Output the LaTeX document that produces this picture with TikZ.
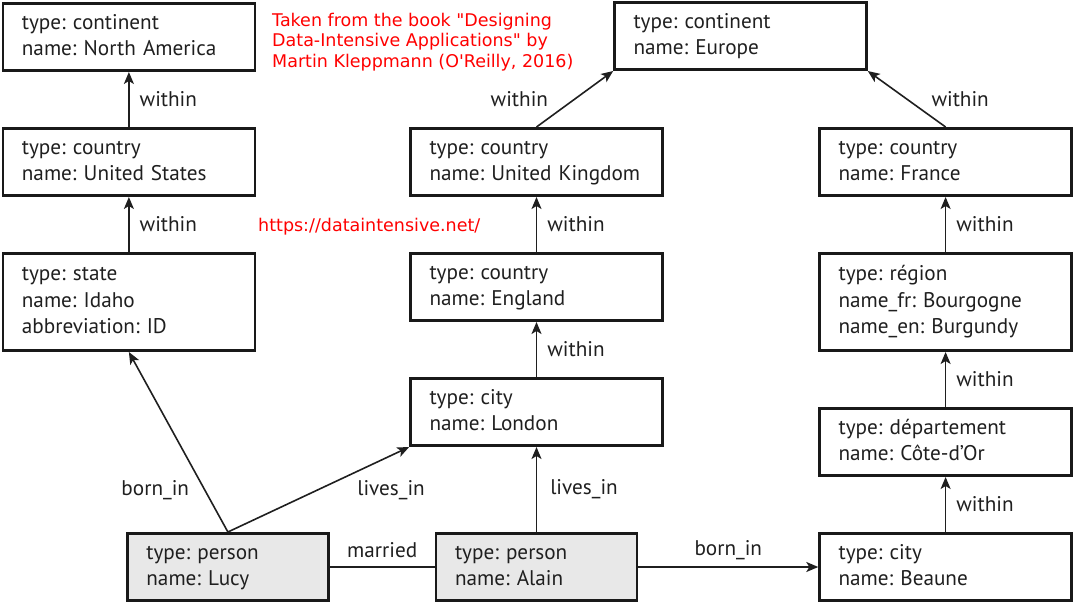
\documentclass[tikz,border=0pt]{standalone}
\usepackage{fontspec}
\setmainfont{PT Sans}
\newfontfamily\notefont[Ligatures=TeXOff]{DejaVu Sans}
\usetikzlibrary{positioning}
\usetikzlibrary{arrows.meta}
\frenchspacing

\begin{document}
\begin{tikzpicture} [
  x = 1pt, y = 1pt,
  font = \fontsize{21.2}{26.5}\selectfont,
  boite/.style = {rectangle, draw = black!90, line width = 2.6pt, align = left, text width = 214pt, inner xsep = 19pt, inner ysep = 0pt, minimum height = 67.4pt, text = black!88, execute at begin node = \strut, execute at end node = \strut},
  personne/.style = {boite, fill = black!9, text width = 163pt},
  line/.style = {draw, line width = 1.6pt, black!88, -{Stealth[length = 12pt, width = 10pt, inset = 3pt]}},
  etiq/.style = {text = black!88, inner sep = 0pt},
  note/.style = {text = red, font = \notefont\fontsize{17.5}{20.5}\selectfont, align = left, inner sep = 0pt},
]

\useasboundingbox (0,0) rectangle (1074,-605);

 \node [personne] (alain) at (536.5,-567) {type: person\\name: Alain};
 \node [personne, left = 105pt of alain] (lucy) {type: person\\name: Lucy};
 \node [boite, right = 180pt of alain] (beaune) {type: city\\name: Beaune};

 \node [boite, above = 85pt of alain] (london) {type: city\\name: London};
 \node [boite, above = 55pt of london] (england) {type: country\\name: England};
 \node [boite, above = 55pt of england] (uk) {type: country\\name: United Kingdom};
 \node [boite, above = 56pt of uk, xshift = 204pt] (europe) {type: continent\\name: Europe};

 \node [boite, minimum height = 97.4pt, above = 180pt of lucy, xshift = -99pt] (idaho) {type: state\\name: Idaho\\abbreviation: ID};
 \node [boite, above = 55pt of idaho] (us) {type: country\\name: United States};
 \node [boite, above = 55pt of us] (na) {type: continent\\name: North America};

 \node [boite, above = 55pt of beaune] (dept) {type: département\\name: Côte-d’Or};
 \node [boite, minimum height = 97.4pt, above = 55pt of dept] (region) {type: région\\name\_fr: Bourgogne\\name\_en: Burgundy};
 \node [boite, above = 55pt of region] (france) {type: country\\name: France};

 \node [note, anchor = north west] (source) at (272,-13) {Taken from the book "Designing\\Data-Intensive Applications" by\\Martin Kleppmann (O'Reilly, 2016)};
 \node [note, anchor = west] (site) at (258,-227) {https://dataintensive.net/};

 \begin{scope}[every path/.style = line]
\path (us) -- node [etiq, right = 10pt] {within} (na);
\path (idaho) -- node [etiq, right = 10pt] {within} (us);
\path (england) -- node [etiq, right = 10pt] {within} (uk);
\path (london) -- node [etiq, right = 10pt] {within} (england);
\path (uk.north) -- node [etiq, left = 26pt] {within} (europe.south west);
\path (france.north) -- node [etiq, right = 24pt] {within} (europe.south east);
\path (region) -- node [etiq, right = 10pt] {within} (france);
\path (dept) -- node [etiq, right = 10pt] {within} (region);
\path (beaune) -- node [etiq, right = 10pt] {within} (dept);
\path (lucy.north) -- node [etiq, pos = 0.233, left = 15pt] {born\_in} (idaho.south);
\path (lucy.north) -- node [etiq, pos = 0.9, below = 24pt] {lives\_in} (london.south west);
\path (alain) -- node [etiq, right = 13pt] {lives\_in} (london);
\path [-] (lucy) -- node [etiq, above = 8pt] {married} (alain);
\path (alain) -- node [etiq, above = 6pt] {born\_in} (beaune);
\end{scope}

\end{tikzpicture}
\end{document}
